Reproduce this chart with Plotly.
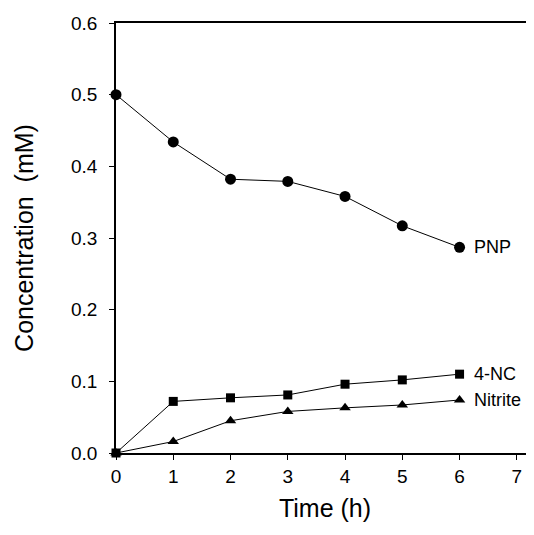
import plotly.graph_objects as go

time_h = [0, 1, 2, 3, 4, 5, 6]
pnp = [0.500, 0.434, 0.382, 0.379, 0.358, 0.317, 0.287]
nc4 = [0.000, 0.072, 0.077, 0.081, 0.096, 0.102, 0.110]
nitrite = [0.000, 0.016, 0.045, 0.058, 0.063, 0.067, 0.074]

series_labels = ["PNP", "4-NC", "Nitrite"]

font = "Liberation Sans, Arial, sans-serif"

fig = go.Figure()

fig.add_scatter(x=time_h, y=nitrite, mode="lines+markers", name="Nitrite",
                line=dict(color="black", width=1),
                marker=dict(symbol="triangle-up", size=10, color="black"),
                cliponaxis=False)
fig.add_scatter(x=time_h, y=pnp, mode="lines+markers", name="PNP",
                line=dict(color="black", width=1),
                marker=dict(symbol="circle", size=11, color="black"),
                cliponaxis=False)
fig.add_scatter(x=time_h, y=nc4, mode="lines+markers", name="4-NC",
                line=dict(color="black", width=1),
                marker=dict(symbol="square", size=9, color="black"),
                cliponaxis=False)

# labels next to the last point of each curve
for label, ys in zip(series_labels, [pnp, nc4, nitrite]):
    fig.add_annotation(x=time_h[-1], y=ys[-1], text=label, showarrow=False,
                       xanchor="left", xshift=12,
                       font=dict(family=font, size=18, color="black"))

# the page body has an 8px margin, so the figure is shifted by that much
fig.update_layout(
    width=526, height=519,
    margin=dict(l=108, r=0, t=15, b=74),
    plot_bgcolor="white", paper_bgcolor="white",
    showlegend=False,
    font=dict(family=font, color="black"),
)
fig.update_xaxes(
    range=[0, 7.3], tickvals=[0, 1, 2, 3, 4, 5, 6, 7],
    showgrid=False, zeroline=False,
    showline=True, linecolor="black", linewidth=1.5, mirror=True,
    ticks="outside", ticklen=5, tickcolor="black",
    tickfont=dict(size=19), ticklabelstandoff=0,
    title=dict(text="Time (h)", font=dict(size=25), standoff=14),
)
fig.update_yaxes(
    range=[0, 0.6], tickvals=[0, 0.1, 0.2, 0.3, 0.4, 0.5, 0.6], tickformat=".1f",
    showgrid=False, zeroline=False,
    showline=True, linecolor="black", linewidth=1.5,
    ticks="outside", ticklen=5, tickcolor="black",
    tickfont=dict(size=19), ticklabelstandoff=8,
    title=dict(text="Concentration  (mM)", font=dict(size=25), standoff=30),
)

fig.write_html("out.html")
